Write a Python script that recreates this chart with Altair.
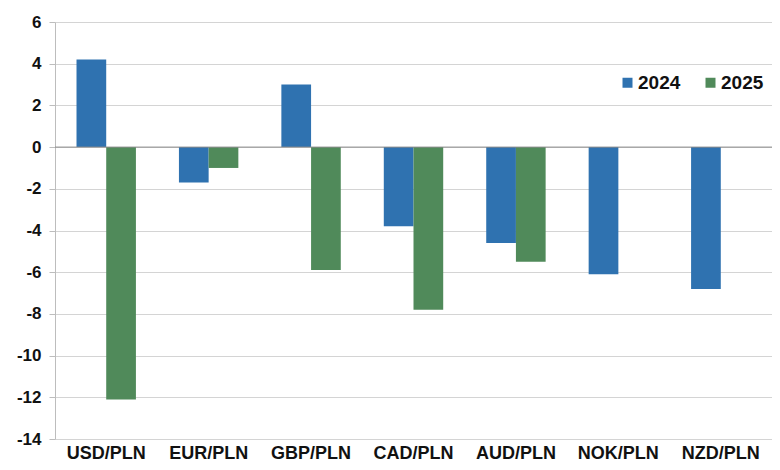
import altair as alt
import pandas as pd

categories = ["USD/PLN", "EUR/PLN", "GBP/PLN", "CAD/PLN", "AUD/PLN", "NOK/PLN", "NZD/PLN"]
v2024 = [4.2, -1.7, 3.0, -3.8, -4.6, -6.1, -6.8]
v2025 = [-12.1, -1.0, -5.9, -7.8, -5.5, None, None]
years = ["2024", "2025"]
y_ticks = [6, 4, 2, 0, -2, -4, -6, -8, -10, -12, -14]

rows = []
for c, a, b in zip(categories, v2024, v2025):
    rows.append({"cat": c, "year": "2024", "value": a})
    if b is not None:
        rows.append({"cat": c, "year": "2025", "value": b})
df = pd.DataFrame(rows)

FONT = "Liberation Sans"

bars = alt.Chart(df).mark_bar().encode(
    x=alt.X("cat:N", sort=categories, title=None,
            scale=alt.Scale(paddingInner=0.42, paddingOuter=0.21),
            axis=alt.Axis(labelAngle=0, ticks=False, domain=False, grid=False,
                          labelFont=FONT, labelFontSize=18, labelFontWeight="bold",
                          labelColor="#111111", labelPadding=5)),
    xOffset=alt.XOffset("year:N", sort=years),
    y=alt.Y("value:Q", title=None,
            scale=alt.Scale(domain=[-14, 6], nice=False),
            axis=alt.Axis(values=y_ticks, grid=True, gridColor="#d4d4d4",
                          domain=True, domainColor="#bdbdbd", tickColor="#bdbdbd",
                          tickSize=6, labelFont=FONT, labelFontSize=17,
                          labelFontWeight="bold", labelColor="#111111", labelPadding=8,
                          labelExpr="replace(datum.label, '\u2212', '-')")),
    color=alt.Color("year:N", sort=years,
                    scale=alt.Scale(domain=years, range=["#2f72b0", "#508a5a"]),
                    legend=alt.Legend(title=None, orient="none", direction="horizontal",
                                      legendX=563, legendY=51, symbolType="square",
                                      symbolSize=100, labelFont=FONT, labelFontSize=19,
                                      labelFontWeight="bold", labelColor="#111111",
                                      labelOffset=1, columnPadding=20, symbolOpacity=1,
                                      symbolStrokeWidth=0)),
)

zero = alt.Chart(pd.DataFrame({"y": [0]})).mark_rule(color="#8a8a8a", strokeWidth=1).encode(
    y="y:Q"
)

chart = alt.layer(bars, zero).properties(
    width=717, height=417,
    autosize=alt.AutoSizeParams(type="none"),
    padding={"left": 47, "top": 14, "right": 0, "bottom": 23},
).configure_view(stroke=None)

chart.save("out.html", embed_options={"renderer": "svg", "actions": False})
